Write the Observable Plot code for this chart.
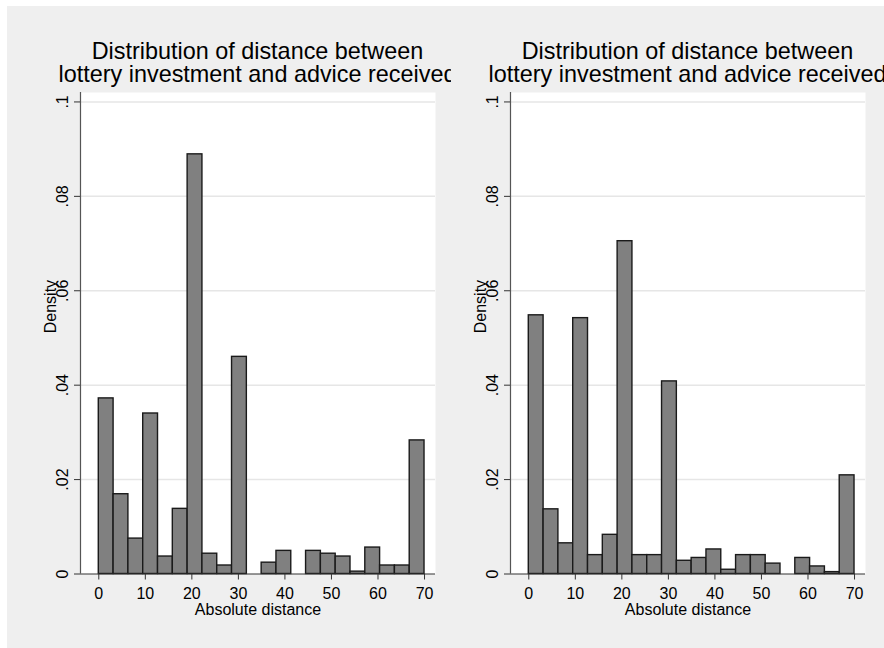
<!DOCTYPE html>
<html>
<head>
<meta charset="utf-8">
<script src="https://cdn.jsdelivr.net/npm/d3@7"></script>
<script src="https://cdn.jsdelivr.net/npm/@observablehq/plot@0.6"></script>
<style>
html, body { margin: 0; padding: 0; background: #fff; }
#root { position: relative; width: 884px; height: 648px; overflow: hidden; background: #fff; }
#bg { position: absolute; left: 7px; top: 6px; right: 0; bottom: 0; background: #efefef; }
.clip { position: absolute; top: 0; height: 648px; overflow: hidden; }
.title { position: absolute; white-space: pre; text-align: center; width: 700px;
  font-family: "Liberation Sans", Arial, sans-serif; font-size: 23.4px; line-height: 23.3px; color: #000; }
.chart { position: absolute; }
</style>
</head>
<body>
<div id="root"><div id="bg"></div></div>
<script>
// ---- data ----
const titleLines = ["Distribution of distance between", "lottery investment and advice received"];
const xLabel = "Absolute distance";
const yLabel = "Density";
const binCount = 22;
const binMax = 70;
const xTicks = [0, 10, 20, 30, 40, 50, 60, 70];
const yTicks = [0, 0.02, 0.04, 0.06, 0.08, 0.1];
const yTickLabels = ["0", ".02", ".04", ".06", ".08", ".1"];
// density per bin (0 = empty bin)
const leftDensity = [0.0372, 0.0169, 0.0075, 0.0340, 0.0037, 0.0138, 0.0889, 0.0043, 0.0018, 0.0460, 0,
                     0.0024, 0.0049, 0, 0.0049, 0.0043, 0.0037, 0.0005, 0.0056, 0.0018, 0.0018, 0.0283];
const rightDensity = [0.0548, 0.0137, 0.0065, 0.0542, 0.0040, 0.0083, 0.0705, 0.0040, 0.0040, 0.0408, 0.0028,
                      0.0034, 0.0052, 0.0009, 0.0040, 0.0040, 0.0022, 0, 0.0034, 0.0016, 0.0004, 0.0209];

// ---- layout ----
const panels = [
  {density: leftDensity, frameLeft: 80, clipLeft: 7, clipRight: 451},
  {density: rightDensity, frameLeft: 510, clipLeft: 451, clipRight: 884}
];
const frameWidth = 355, frameTop = 92, frameBottom = 573.5;
const svgTop = 88, mL = 73, mR = 10, mT = frameTop - svgTop, mB = 66.5;
const xDomain = [-3.93, 72.36];
const yDomain = [0, 0.102];
const font = '"Liberation Sans", Arial, sans-serif';

function makeChart(density) {
  const bars = density.map((d, i) => ({x1: i * binMax / binCount, x2: (i + 1) * binMax / binCount, y: d}))
                      .filter(d => d.y > 0);
  return Plot.plot({
    width: mL + frameWidth + mR,
    height: mT + (frameBottom - frameTop) + mB,
    marginLeft: mL, marginRight: mR, marginTop: mT, marginBottom: mB,
    style: {background: "transparent", fontFamily: font, fontSize: "16px", color: "#000", maxWidth: "none", overflow: "visible"},
    x: {domain: xDomain},
    y: {domain: yDomain},
    marks: [
      Plot.frame({fill: "white", stroke: "none"}),
      Plot.gridY(yTicks.filter(v => v > 0), {stroke: "#e6e6e6", strokeOpacity: 1, strokeWidth: 1.5}),
      Plot.rectY(bars, {x1: "x1", x2: "x2", y: "y", fill: "#808080", stroke: "#1a1a1a", strokeWidth: 1.4}),
      Plot.ruleX([xDomain[0]], {y1: yDomain[0], y2: yDomain[1], stroke: "#555", strokeWidth: 1.2}),
      Plot.ruleY([0], {stroke: "#333", strokeWidth: 1.2}),
      Plot.axisX(xTicks, {tickSize: 6, tickPadding: 8, stroke: "#333", label: null}),
      Plot.axisY(yTicks, {tickSize: 6, tickPadding: 6.6, tickRotate: -90, stroke: "#333", label: null,
        tickFormat: v => yTickLabels[yTicks.indexOf(v)]}),
      Plot.text([yLabel], {text: d => d, frameAnchor: "left", rotate: -90, dx: -29.3, lineAnchor: "middle"}),
      Plot.text([xLabel], {text: d => d, frameAnchor: "bottom", dy: 29.5, lineAnchor: "top"})
    ]
  });
}

const root = document.getElementById("root");
for (const p of panels) {
  const clip = document.createElement("div");
  clip.className = "clip";
  clip.style.left = p.clipLeft + "px";
  clip.style.width = (p.clipRight - p.clipLeft) + "px";
  const center = p.frameLeft + frameWidth / 2;
  const title = document.createElement("div");
  title.className = "title";
  title.style.left = (center - 350 - p.clipLeft) + "px";
  title.style.top = "40.2px";
  title.textContent = titleLines.join("\n");
  clip.appendChild(title);
  const wrap = document.createElement("div");
  wrap.className = "chart";
  wrap.style.left = (p.frameLeft - mL - p.clipLeft) + "px";
  wrap.style.top = svgTop + "px";
  wrap.appendChild(makeChart(p.density));
  clip.appendChild(wrap);
  root.appendChild(clip);
}
</script>
</body>
</html>
